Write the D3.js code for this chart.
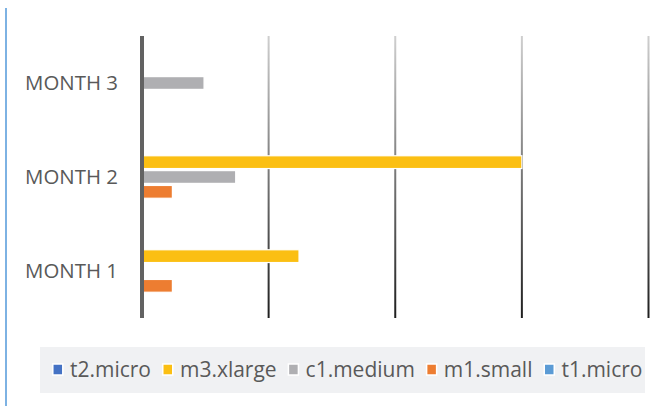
<!DOCTYPE html>
<html><head><meta charset="utf-8">
<script src="https://cdn.jsdelivr.net/npm/d3@7"></script>
<style>html,body{margin:0;padding:0;background:#fff;}svg{display:block;}</style>
</head><body>
<svg id="chart" width="670" height="406"></svg>
<script>
const categories = ["MONTH 3", "MONTH 2", "MONTH 1"];
const seriesNames = ["t2.micro", "m3.xlarge", "c1.medium", "m1.small", "t1.micro"];
const seriesColors = ["#4472C4", "#FBBF13", "#AFAFB2", "#ED7D31", "#5B9BD5"];
// values per category, in order MONTH 3, MONTH 2, MONTH 1
const t2micro  = [0, 0, 0];
const m3xlarge = [0, 3.0, 1.24];
const c1medium = [0.49, 0.74, 0];
const m1small  = [0, 0.24, 0.24];
const t1micro  = [0, 0, 0];
const xTicks = [1, 2, 3, 4];

const seriesValues = [t2micro, m3xlarge, c1medium, m1small, t1micro];
const svg = d3.select("#chart");
const font = "'Open Sans', sans-serif";
const textColor = "#595959";

const x = d3.scaleLinear().domain([0, 4]).range([142, 648.5]);
const y = d3.scaleBand().domain(categories).range([36, 318]).paddingInner(0.21).paddingOuter(0.105);
const ys = d3.scaleBand().domain(seriesNames).range([0, y.bandwidth()]).paddingInner(0.14).paddingOuter(0.07);

// outer left border line
svg.append("line").attr("x1", 6).attr("x2", 6).attr("y1", 8).attr("y2", 406)
  .attr("stroke", "#7db2e3").attr("stroke-width", 2);

// gridline gradient
const defs = svg.append("defs");
const grad = defs.append("linearGradient").attr("id", "gridGrad")
  .attr("gradientUnits", "userSpaceOnUse").attr("x1", 0).attr("y1", 36).attr("x2", 0).attr("y2", 318);
grad.append("stop").attr("offset", "0%").attr("stop-color", "#cfcfcf");
grad.append("stop").attr("offset", "100%").attr("stop-color", "#1e1e1e");

svg.append("g").selectAll("line").data(xTicks).join("line")
  .attr("x1", d => x(d)).attr("x2", d => x(d))
  .attr("y1", 36).attr("y2", 318)
  .attr("stroke", "url(#gridGrad)").attr("stroke-width", 2);

// bars
const flat = [];
categories.forEach((c, ci) => seriesNames.forEach((s, si) => {
  flat.push({cat: c, series: s, value: seriesValues[si][ci], color: seriesColors[si]});
}));
svg.append("g").selectAll("rect").data(flat.filter(d => d.value > 0)).join("rect")
  .attr("x", x(0))
  .attr("y", d => y(d.cat) + ys(d.series))
  .attr("width", d => x(d.value) - x(0))
  .attr("height", ys.bandwidth())
  .attr("fill", d => d.color)
  .attr("stroke", "#fff").attr("stroke-width", 1.2);

// vertical axis line
svg.append("line").attr("x1", x(0)).attr("x2", x(0)).attr("y1", 36).attr("y2", 318)
  .attr("stroke", "#626262").attr("stroke-width", 4);

// fit font size helper
function fitSize(text, target) {
  const t = svg.append("text").attr("font-family", font).attr("font-size", 20).text(text);
  const w = t.node().getComputedTextLength();
  t.remove();
  return 20 * target / w;
}

// category labels
const catSize = fitSize("MONTH 2", 93);
svg.append("g").selectAll("text").data(categories).join("text")
  .attr("x", 118).attr("y", d => y(d) + y.bandwidth() / 2)
  .attr("dy", "0.36em")
  .attr("text-anchor", "end")
  .attr("font-family", font).attr("font-size", catSize)
  .attr("fill", textColor).text(d => d);

// legend
svg.append("rect").attr("x", 40).attr("y", 347).attr("width", 605).attr("height", 46).attr("fill", "#f0f1f3");
const legSize = fitSize("t2.micro", 81);
let lx = 52;
const lg = svg.append("g");
seriesNames.forEach((s, i) => {
  lg.append("rect").attr("x", lx + 0.8).attr("y", 364).attr("width", 10).attr("height", 11)
    .attr("fill", seriesColors[i]).attr("stroke", "#fff").attr("stroke-width", 1.5);
  const t = lg.append("text").attr("x", lx + 18).attr("y", 377)
    .attr("font-family", font).attr("font-size", legSize).attr("fill", textColor).text(s);
  lx = lx + 18 + t.node().getComputedTextLength() + 11;
});
</script>
</body></html>
